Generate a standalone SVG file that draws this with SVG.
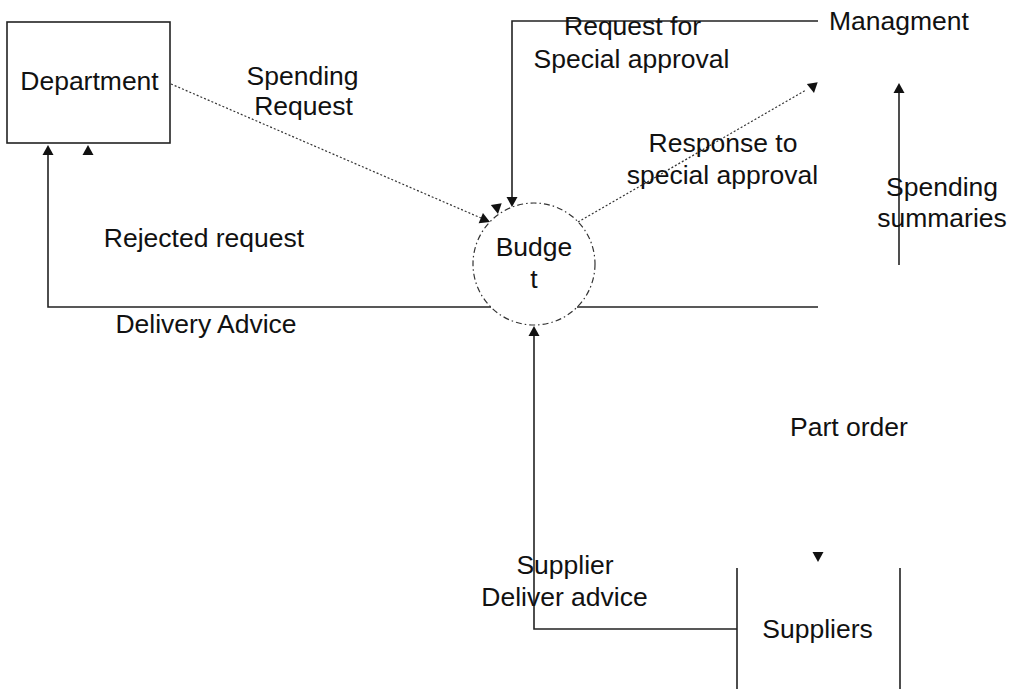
<svg xmlns="http://www.w3.org/2000/svg" xmlns:xlink="http://www.w3.org/1999/xlink" width="1010" height="689" viewBox="0 0 1010 689">
<style>
text{font-family:"Liberation Sans",Arial,sans-serif;font-size:26.5px;fill:#111;text-anchor:middle}
.ln{fill:none;stroke:#222;stroke-width:1.6}
.dot{fill:none;stroke:#333;stroke-width:1.2;stroke-dasharray:2 2}
.box{fill:#fff;stroke:#222;stroke-width:1.6}
.ah{fill:#111}
</style>
<defs>
<path id="ah" d="M0,0 L-5.5,10 L5.5,10 Z"/>
</defs>
<rect width="1010" height="689" fill="#fff"/>
<g id="connectors">
  <path class="ln" d="M48,155 V307 H491"/>
  <path class="ln" d="M577,307 H818"/>
  <path class="dot" d="M171,84 L481,218"/>
  <path class="ln" d="M512,197 V21 H818"/>
  <path class="dot" d="M578,222 L806,90"/>
  <path class="ln" d="M899,265 V93"/>
  <path class="ln" d="M737,629 H534 V336"/>
  <use class="ah" xlink:href="#ah" transform="translate(48,145)"/>
  <use class="ah" xlink:href="#ah" transform="translate(88,145)"/>
  <use class="ah" xlink:href="#ah" transform="translate(490,222) rotate(113)"/>
  <use class="ah" xlink:href="#ah" transform="translate(498,214) rotate(170)"/>
  <use class="ah" xlink:href="#ah" transform="translate(512,207) rotate(180)"/>
  <use class="ah" xlink:href="#ah" transform="translate(814,93) rotate(170)"/>
  <use class="ah" xlink:href="#ah" transform="translate(899,83)"/>
  <use class="ah" xlink:href="#ah" transform="translate(534,326)"/>
  <use class="ah" xlink:href="#ah" transform="translate(818,562) rotate(180)"/>
  <text x="302.5" y="85">Spending</text>
  <text x="303.5" y="115">Request</text>
  <text x="204" y="247">Rejected request</text>
  <text x="206" y="333">Delivery Advice</text>
  <text x="632.5" y="35">Request for</text>
  <text x="631.5" y="68">Special approval</text>
  <text x="723" y="152">Response to</text>
  <text x="722.5" y="184">special approval</text>
  <text x="942" y="196">Spending</text>
  <text x="942" y="227">summaries</text>
  <text x="849" y="436">Part order</text>
  <text x="565" y="574">Supplier</text>
  <text x="564.5" y="606">Deliver advice</text>
</g>
<g id="department">
  <rect class="box" x="7" y="22" width="163" height="121"/>
  <text x="89.5" y="90">Department</text>
</g>
<g id="budget">
  <circle cx="534" cy="264" r="61" fill="none" stroke="#333" stroke-width="1.2" stroke-dasharray="6 3 1.5 3"/>
  <text x="534" y="256">Budge</text>
  <text x="534" y="288">t</text>
</g>
<g id="management">
  <text x="899" y="30">Managment</text>
</g>
<g id="suppliers">
  <path class="ln" d="M737,568 V689 M900,568 V689"/>
  <text x="817.5" y="638">Suppliers</text>
</g>
</svg>
